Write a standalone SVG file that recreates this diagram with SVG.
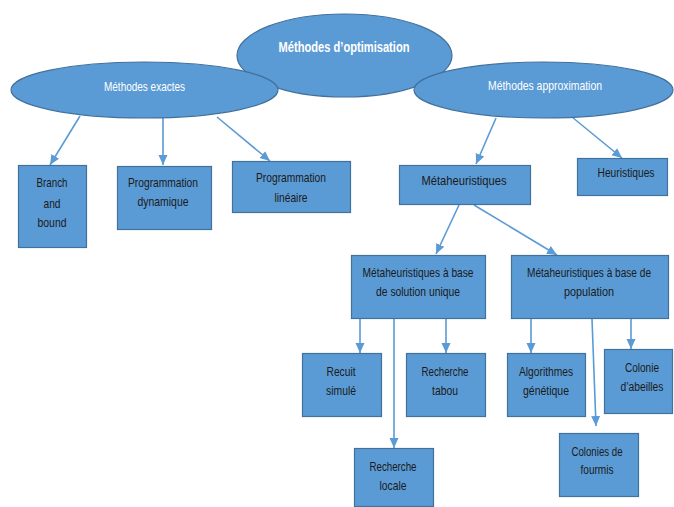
<svg xmlns="http://www.w3.org/2000/svg" width="674" height="507" viewBox="0 0 674 507">
<defs>
<style>
.sh{fill:#5B9BD5;stroke:#41719C;stroke-width:1.2}
.t{font-family:"Liberation Sans",Arial,sans-serif;font-size:13px;fill:#1a1a1a;text-anchor:middle}
.s{font-size:12px}
.w{font-family:"Liberation Sans",Arial,sans-serif;font-size:13px;fill:#ffffff;text-anchor:middle}
.c{stroke:#5B9BD5;stroke-width:1.6;fill:none;marker-end:url(#ah)}
</style>
<marker id="ah" markerUnits="userSpaceOnUse" markerWidth="10" markerHeight="10" viewBox="0 0 10 10" refX="10" refY="5" orient="auto">
<path d="M0,0.5 L10,5 L0,9.5 z" fill="#5B9BD5"/>
</marker>
</defs>
<rect width="674" height="507" fill="#ffffff"/>
<g id="connectors">
<line class="c" x1="80" y1="116" x2="50" y2="165"/>
<line class="c" x1="163" y1="117" x2="163" y2="165"/>
<line class="c" x1="217" y1="117" x2="270" y2="161"/>
<line class="c" x1="496" y1="118" x2="476" y2="164"/>
<line class="c" x1="572" y1="117" x2="622" y2="158"/>
<line class="c" x1="459" y1="205" x2="436" y2="254"/>
<line class="c" x1="474" y1="205" x2="557" y2="255"/>
<line class="c" x1="360" y1="319" x2="360" y2="353"/>
<line class="c" x1="394" y1="319" x2="394" y2="448"/>
<line class="c" x1="446" y1="319" x2="446" y2="353"/>
<line class="c" x1="531" y1="319" x2="531" y2="353"/>
<line class="c" x1="592" y1="319" x2="596" y2="426"/>
<line class="c" x1="631" y1="319" x2="631" y2="349"/>
</g>
<g id="n-optim">
<ellipse class="sh" cx="344.5" cy="55.5" rx="107.5" ry="41.5"/>
<text class="w" x="344" y="52" font-weight="bold" style="font-size:15px" textLength="131" lengthAdjust="spacingAndGlyphs">Méthodes d’optimisation</text>
</g>
<g id="n-exactes">
<ellipse class="sh" cx="144.5" cy="90" rx="133.5" ry="28"/>
<text class="w" x="144.5" y="91" textLength="81" lengthAdjust="spacingAndGlyphs">Méthodes exactes</text>
</g>
<g id="n-approx">
<ellipse class="sh" cx="543.5" cy="90" rx="129.5" ry="28"/>
<text class="w" x="545" y="90" textLength="114" lengthAdjust="spacingAndGlyphs">Méthodes approximation</text>
</g>
<g id="n-branch">
<rect class="sh" x="18.5" y="165.5" width="68" height="82"/>
<text class="t" x="52" y="187" textLength="31" lengthAdjust="spacingAndGlyphs">Branch</text>
<text class="t" x="52" y="208" textLength="17" lengthAdjust="spacingAndGlyphs">and</text>
<text class="t" x="52" y="227" textLength="29" lengthAdjust="spacingAndGlyphs">bound</text>
</g>
<g id="n-progdyn">
<rect class="sh" x="117.5" y="166.5" width="94" height="63"/>
<text class="t" x="163" y="187" textLength="70" lengthAdjust="spacingAndGlyphs">Programmation</text>
<text class="t" x="163" y="206" textLength="51" lengthAdjust="spacingAndGlyphs">dynamique</text>
</g>
<g id="n-proglin">
<rect class="sh" x="232.5" y="161.5" width="118" height="51"/>
<text class="t" x="291" y="182" textLength="70" lengthAdjust="spacingAndGlyphs">Programmation</text>
<text class="t" x="291" y="202" textLength="33" lengthAdjust="spacingAndGlyphs">linéaire</text>
</g>
<g id="n-meta">
<rect class="sh" x="399.5" y="165.5" width="131" height="39"/>
<text class="t" x="464" y="185" textLength="85" lengthAdjust="spacingAndGlyphs">Métaheuristiques</text>
</g>
<g id="n-heur">
<rect class="sh" x="577.5" y="158.5" width="90" height="37"/>
<text class="t" x="626" y="177" textLength="57" lengthAdjust="spacingAndGlyphs">Heuristiques</text>
</g>
<g id="n-unique">
<rect class="sh" x="351.5" y="255.5" width="134" height="63"/>
<text class="t" x="418" y="277" textLength="111" lengthAdjust="spacingAndGlyphs">Métaheuristiques à base</text>
<text class="t" x="418" y="296" textLength="84" lengthAdjust="spacingAndGlyphs">de solution unique</text>
</g>
<g id="n-pop">
<rect class="sh" x="511.5" y="255.5" width="157" height="63"/>
<text class="t s" x="589" y="277" textLength="124" lengthAdjust="spacingAndGlyphs">Métaheuristiques à base de</text>
<text class="t" x="589" y="296" textLength="50" lengthAdjust="spacingAndGlyphs">population</text>
</g>
<g id="n-recuit">
<rect class="sh" x="302.5" y="353.5" width="79" height="63"/>
<text class="t" x="341" y="376" textLength="29" lengthAdjust="spacingAndGlyphs">Recuit</text>
<text class="t" x="341" y="395" textLength="30" lengthAdjust="spacingAndGlyphs">simulé</text>
</g>
<g id="n-tabou">
<rect class="sh" x="406.5" y="353.5" width="79" height="63"/>
<text class="t" x="445" y="376" textLength="47" lengthAdjust="spacingAndGlyphs">Recherche</text>
<text class="t" x="445" y="395" textLength="26" lengthAdjust="spacingAndGlyphs">tabou</text>
</g>
<g id="n-locale">
<rect class="sh" x="354.5" y="448.5" width="79" height="58"/>
<text class="t" x="393" y="471" textLength="47" lengthAdjust="spacingAndGlyphs">Recherche</text>
<text class="t" x="393" y="490" textLength="27" lengthAdjust="spacingAndGlyphs">locale</text>
</g>
<g id="n-algo">
<rect class="sh" x="507.5" y="353.5" width="78" height="63"/>
<text class="t" x="546" y="376" textLength="54" lengthAdjust="spacingAndGlyphs">Algorithmes</text>
<text class="t" x="546" y="395" textLength="46" lengthAdjust="spacingAndGlyphs">génétique</text>
</g>
<g id="n-abeilles">
<rect class="sh" x="604.5" y="349.5" width="68" height="64"/>
<text class="t s" x="642" y="372" textLength="34" lengthAdjust="spacingAndGlyphs">Colonie</text>
<text class="t s" x="642" y="391" textLength="43" lengthAdjust="spacingAndGlyphs">d’abeilles</text>
</g>
<g id="n-fourmis">
<rect class="sh" x="559.5" y="433.5" width="79" height="63"/>
<text class="t" x="597" y="456" textLength="51" lengthAdjust="spacingAndGlyphs">Colonies de</text>
<text class="t" x="597" y="474" textLength="33" lengthAdjust="spacingAndGlyphs">fourmis</text>
</g>
</svg>
